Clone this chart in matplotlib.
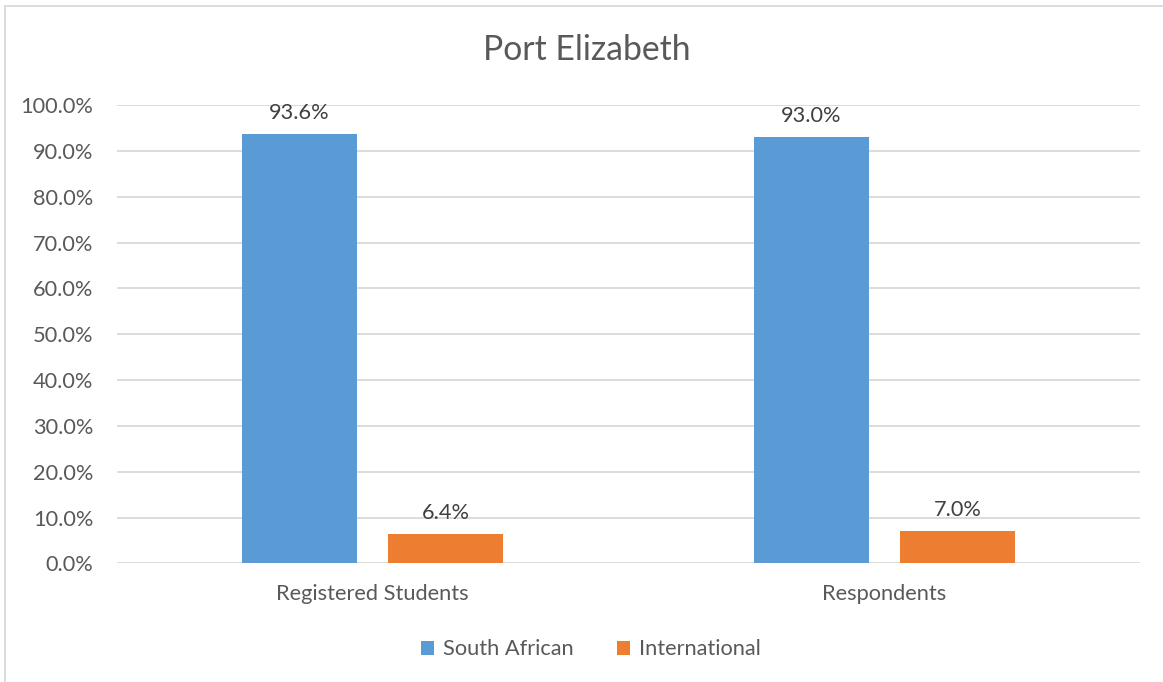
import matplotlib.pyplot as plt
from matplotlib.patches import Rectangle

plt.rcParams['font.family'] = ['Lato', 'DejaVu Sans']

categories = ['Registered Students', 'Respondents']
series_names = ['South African', 'International']
south_african = [0.936, 0.930]
international = [0.064, 0.070]
colors = ['#5B9BD5', '#ED7D31']
text_col = '#595959'

fig = plt.figure(figsize=(11.63, 6.82), dpi=100)
ax = fig.add_axes([0.1006, 0.1738, 0.8796, 0.6722])

# thin grey chart border (right/bottom cropped in the original)
fig.patches.append(Rectangle((5 / 1163, -0.05), 1.2, 1 - 6 / 682 + 0.05,
                             transform=fig.transFigure, fill=False,
                             edgecolor='#D9D9D9', linewidth=1.3))

x = list(range(len(categories)))
w = 0.225
off = 0.143
fs = 15.7
for vals, name, c, d in [(south_african, series_names[0], colors[0], -off),
                         (international, series_names[1], colors[1], off)]:
    bars = ax.bar([i + d for i in x], vals, width=w, color=c, label=name, zorder=3)
    for b, v in zip(bars, vals):
        ax.text(b.get_x() + b.get_width() / 2, v + 0.025, f'{v * 100:.1f}%',
                ha='center', va='bottom', fontsize=fs, color='#404040')

ax.set_xlim(-0.5, 1.5)
ax.set_ylim(0, 1.0)
ax.set_yticks([i / 10 for i in range(11)])
ax.set_yticklabels([f'{i * 10:.1f}%' for i in range(11)])
ax.set_xticks(x)
ax.set_xticklabels(categories)
ax.tick_params(axis='both', length=0, labelsize=fs, labelcolor=text_col)
ax.tick_params(axis='y', pad=17)
ax.tick_params(axis='x', pad=15)
ax.grid(True, axis='y', color='#D9D9D9', linewidth=1.3, zorder=0)
for s in ax.spines.values():
    s.set_visible(False)

fig.text(0.5043, 0.927, 'Port Elizabeth', ha='center', va='center',
         fontsize=24.3, color=text_col)

leg = fig.legend(loc='center', bbox_to_anchor=(0.508, 0.048), ncol=2, frameon=False,
                 fontsize=fs, handlelength=0.6, handleheight=0.6,
                 columnspacing=2.0, handletextpad=0.4)
for t in leg.get_texts():
    t.set_color(text_col)

fig.savefig('out.png', dpi=100)
